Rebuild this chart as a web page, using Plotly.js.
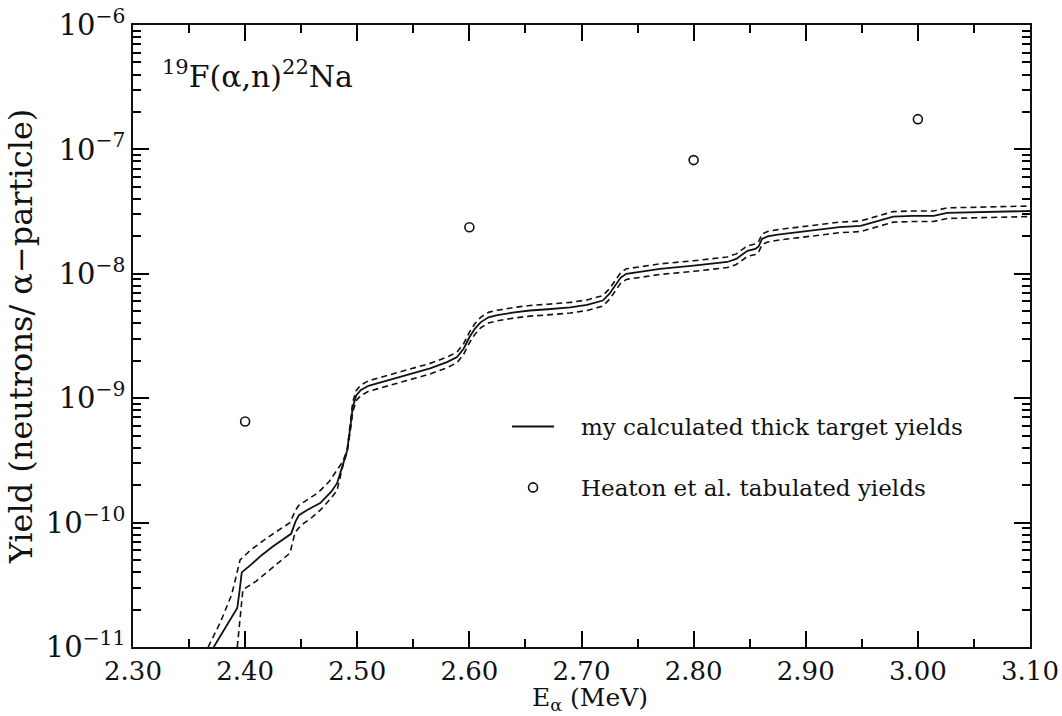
<!DOCTYPE html>
<html>
<head>
<meta charset="utf-8">
<script src="https://cdn.plot.ly/plotly-3.0.1.min.js"></script>
<style>html,body{margin:0;padding:0;background:#fff;}#chart{width:1062px;height:716px;}</style>
</head>
<body>
<div id="chart"></div>
<script>
// Alpha energy (MeV) and log10 of yield (neutrons per alpha)
const eCentral = [2.372,2.380,2.388,2.393,2.395,2.397,2.405,2.415,2.425,2.435,2.441,2.445,2.448,2.455,2.467,2.477,2.482,2.487,2.491,2.494,2.496,2.499,2.503,2.51,2.52,2.535,2.55,2.565,2.58,2.589,2.595,2.600,2.605,2.610,2.617,2.625,2.64,2.654,2.67,2.69,2.705,2.719,2.725,2.730,2.735,2.740,2.750,2.770,2.80,2.82,2.830,2.838,2.843,2.848,2.855,2.858,2.861,2.866,2.875,2.889,2.91,2.93,2.949,2.965,2.978,2.995,3.014,3.026,3.05,3.075,3.10];
const logCentral = [-11.0,-10.88,-10.76,-10.687,-10.55,-10.40,-10.34,-10.26,-10.19,-10.13,-10.09,-9.99,-9.94,-9.90,-9.843,-9.75,-9.683,-9.54,-9.42,-9.22,-9.07,-8.98,-8.936,-8.90,-8.875,-8.84,-8.80,-8.76,-8.71,-8.67,-8.60,-8.51,-8.44,-8.39,-8.35,-8.333,-8.31,-8.295,-8.285,-8.27,-8.25,-8.215,-8.16,-8.09,-8.03,-8.0,-7.985,-7.96,-7.935,-7.915,-7.905,-7.88,-7.845,-7.815,-7.80,-7.78,-7.72,-7.70,-7.685,-7.67,-7.645,-7.625,-7.615,-7.575,-7.54,-7.535,-7.535,-7.51,-7.505,-7.50,-7.495];

const eUpper = [2.367,2.378,2.388,2.3955,2.405,2.42,2.44,2.445,2.448,2.455,2.465,2.475,2.482,2.487,2.491,2.494,2.496,2.499,2.503,2.51,2.52,2.535,2.55,2.565,2.58,2.589,2.595,2.600,2.605,2.610,2.617,2.625,2.64,2.654,2.67,2.69,2.705,2.719,2.725,2.730,2.735,2.740,2.75,2.77,2.80,2.82,2.83,2.838,2.843,2.848,2.855,2.858,2.861,2.866,2.875,2.889,2.91,2.93,2.949,2.965,2.978,2.995,3.014,3.026,3.05,3.075,3.10];
const logUpper = [-11.0,-10.80,-10.58,-10.30,-10.22,-10.12,-10.0,-9.90,-9.86,-9.82,-9.76,-9.67,-9.58,-9.51,-9.42,-9.20,-9.03,-8.94,-8.895,-8.86,-8.835,-8.80,-8.76,-8.72,-8.67,-8.63,-8.56,-8.47,-8.40,-8.35,-8.31,-8.293,-8.27,-8.255,-8.245,-8.23,-8.21,-8.175,-8.12,-8.05,-7.99,-7.96,-7.945,-7.92,-7.895,-7.875,-7.865,-7.84,-7.805,-7.775,-7.76,-7.74,-7.68,-7.66,-7.645,-7.63,-7.605,-7.585,-7.575,-7.535,-7.50,-7.495,-7.495,-7.47,-7.465,-7.46,-7.455];

const eLower = [2.393,2.396,2.398,2.41,2.425,2.44,2.4445,2.45,2.458,2.467,2.477,2.482,2.487,2.491,2.494,2.496,2.499,2.503,2.51,2.52,2.535,2.55,2.565,2.58,2.589,2.595,2.600,2.605,2.610,2.617,2.625,2.64,2.654,2.67,2.69,2.705,2.719,2.725,2.730,2.735,2.740,2.75,2.77,2.80,2.82,2.83,2.838,2.843,2.848,2.855,2.858,2.861,2.866,2.875,2.889,2.91,2.93,2.949,2.965,2.978,2.995,3.014,3.026,3.05,3.075,3.10];
const logLower = [-11.0,-10.75,-10.54,-10.47,-10.36,-10.245,-10.08,-10.02,-9.97,-9.90,-9.80,-9.74,-9.55,-9.43,-9.25,-9.11,-9.02,-8.98,-8.945,-8.92,-8.885,-8.845,-8.805,-8.755,-8.715,-8.645,-8.555,-8.485,-8.435,-8.395,-8.378,-8.355,-8.34,-8.33,-8.315,-8.295,-8.26,-8.205,-8.135,-8.075,-8.045,-8.03,-8.005,-7.98,-7.96,-7.95,-7.925,-7.89,-7.86,-7.845,-7.825,-7.765,-7.745,-7.73,-7.715,-7.69,-7.67,-7.66,-7.62,-7.585,-7.58,-7.58,-7.555,-7.55,-7.545,-7.54];

const heatonE = [2.40, 2.60, 2.80, 3.00];
const heatonYield = [6.5e-10, 2.37e-8, 8.2e-8, 1.75e-7];

const yTickVals = [1e-11, 1e-10, 1e-9, 1e-8, 1e-7, 1e-6];
const yTickText = ['10<sup>\u221211</sup>','10<sup>\u221210</sup>','10<sup>\u22129</sup>','10<sup>\u22128</sup>','10<sup>\u22127</sup>','10<sup>\u22126</sup>'];

const toYield = arr => arr.map(v => Math.pow(10, v));
const FONT = 'DejaVu Serif, Liberation Serif, serif';
const SP = '\u00a0\u00a0\u00a0';

const traces = [
  {x: eUpper, y: toYield(logUpper), mode: 'lines', line: {color: '#111', width: 1.6, dash: '6px,4px'}, showlegend: false, hoverinfo: 'skip'},
  {x: eLower, y: toYield(logLower), mode: 'lines', line: {color: '#111', width: 1.6, dash: '6px,4px'}, showlegend: false, hoverinfo: 'skip'},
  {x: eCentral, y: toYield(logCentral), mode: 'lines', name: SP + 'my calculated thick target yields', legendgroup: 'a', line: {color: '#111', width: 1.8}},
  {x: heatonE, y: heatonYield, mode: 'markers', name: SP + 'Heaton et al. tabulated yields', legendgroup: 'b', marker: {symbol: 'circle-open', size: 9, color: '#111', line: {width: 1.6, color: '#111'}}}
];

const layout = {
  width: 1062, height: 716,
  margin: {l: 133, r: 32, t: 25, b: 69},
  paper_bgcolor: '#fff', plot_bgcolor: '#fff',
  font: {family: FONT, color: '#111', size: 20},
  showlegend: true,
  legend: {x: 0.417, y: 0.389, xanchor: 'left', yanchor: 'top', tracegroupgap: 28, font: {family: FONT, size: 23, color: '#111'}, bgcolor: 'rgba(0,0,0,0)', itemwidth: 42},
  xaxis: {
    range: [2.30, 3.10], tickmode: 'linear', tick0: 2.30, dtick: 0.1, tickformat: '.2f',
    ticks: 'inside', ticklen: 16, tickwidth: 2, tickcolor: '#000',
    minor: {dtick: 0.05, tick0: 2.30, ticks: 'inside', ticklen: 8, tickwidth: 2, tickcolor: '#000'},
    showline: true, linecolor: '#111', linewidth: 1.5, mirror: 'ticks', showgrid: false, zeroline: false,
    tickfont: {family: FONT, size: 26, color: '#111'}
  },
  yaxis: {
    type: 'log', range: [-11, -6], tickmode: 'array', tickvals: yTickVals, ticktext: yTickText,
    ticks: 'inside', ticklen: 16, tickwidth: 2, tickcolor: '#000',
    minor: {dtick: 'D1', ticks: 'inside', ticklen: 8, tickwidth: 2, tickcolor: '#000'},
    showline: true, linecolor: '#111', linewidth: 1.5, mirror: 'ticks', showgrid: false, zeroline: false,
    tickfont: {family: FONT, size: 29, color: '#111'},
    title: {text: 'Yield (neutrons/ \u03b1\u2212particle)', font: {family: FONT, size: 32, color: '#111'}, standoff: 4}
  },
  annotations: [
    {xref: 'paper', yref: 'paper', x: 0.03, y: 0.92, xanchor: 'left', yanchor: 'middle', showarrow: false,
     text: '<sup>19</sup>F(\u03b1,n)<sup>22</sup>Na', font: {family: FONT, size: 30, color: '#111'}},
    {xref: 'paper', yref: 'paper', x: 0.51, y: -0.0563, xanchor: 'center', yanchor: 'top', showarrow: false, borderpad: 0,
     text: 'E<sub>\u03b1</sub> (MeV)', font: {family: FONT, size: 25, color: '#111'}}
  ]
};

Plotly.newPlot('chart', traces, layout, {displayModeBar: false});
</script>
</body>
</html>
